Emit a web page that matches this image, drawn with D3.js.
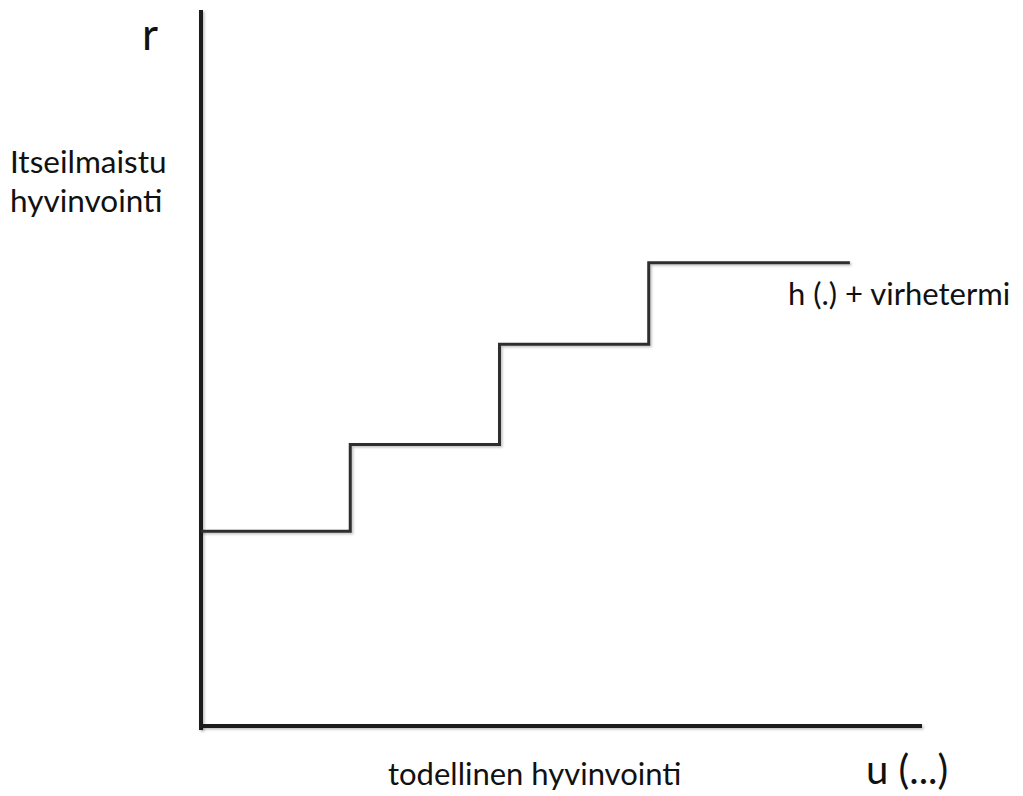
<!DOCTYPE html>
<html>
<head>
<meta charset="utf-8">
<script src="https://cdn.jsdelivr.net/npm/d3@7"></script>
<style>
  html, body { margin: 0; padding: 0; background: #fff; }
  svg { display: block; }
  text { font-family: Lato, "Open Sans", sans-serif; fill: #111; }
</style>
</head>
<body>
<svg id="chart" width="1023" height="796"></svg>
<script>
// Step function data (u = todellinen hyvinvointi, r = itseilmaistu hyvinvointi)
const stepU = [0, 20.7, 41.4, 62.1, 90.0];
const stepR = [27.2, 39.3, 53.3, 64.7, 64.7];
const axisLabels = ["r", "Itseilmaistu", "hyvinvointi", "todellinen hyvinvointi", "u (...)"];
const curveLabel = "h (.) + virhetermi";

const svg = d3.select("#chart");
const x = d3.scaleLinear().domain([0, 100]).range([201, 922]);
const y = d3.scaleLinear().domain([0, 100]).range([726, 10]);

const defs = svg.append("defs");
const f = defs.append("filter").attr("id", "sh")
  .attr("filterUnits", "userSpaceOnUse")
  .attr("x", 0).attr("y", 0).attr("width", 1023).attr("height", 796);
f.append("feDropShadow").attr("dx", 1.5).attr("dy", 1.5).attr("stdDeviation", 1.2)
  .attr("flood-color", "#000").attr("flood-opacity", 0.25);

// Axes
svg.append("line")
  .attr("x1", x(0)).attr("x2", x(0))
  .attr("y1", y(100)).attr("y2", y(0) + 4)
  .attr("stroke", "#1e1e1e").attr("stroke-width", 4).attr("filter", "url(#sh)");
svg.append("line")
  .attr("x1", x(0) - 2).attr("x2", x(100))
  .attr("y1", y(0)).attr("y2", y(0))
  .attr("stroke", "#1e1e1e").attr("stroke-width", 4).attr("filter", "url(#sh)");

// Step line
const pts = stepU.map((u, i) => [u, stepR[i]]);
const line = d3.line().x(d => x(d[0])).y(d => y(d[1])).curve(d3.curveStepAfter);
svg.append("path")
  .datum(pts)
  .attr("d", line)
  .attr("fill", "none")
  .attr("stroke", "#2e2e2e")
  .attr("stroke-width", 3)
  .attr("filter", "url(#sh)");

// Labels
svg.append("text").attr("x", 142).attr("y", 50).attr("font-size", 44).text(axisLabels[0]);
svg.append("text").attr("x", 10).attr("y", 173).attr("font-size", 31.5).text(axisLabels[1]);
svg.append("text").attr("x", 10).attr("y", 212).attr("font-size", 31.5).text(axisLabels[2]);
svg.append("text").attr("x", 388).attr("y", 785).attr("font-size", 31).text(axisLabels[3]);
svg.append("text").attr("x", 866).attr("y", 784).attr("font-size", 40).text(axisLabels[4]);
svg.append("text").attr("x", 788).attr("y", 305).attr("font-size", 31).text(curveLabel);
</script>
</body>
</html>
